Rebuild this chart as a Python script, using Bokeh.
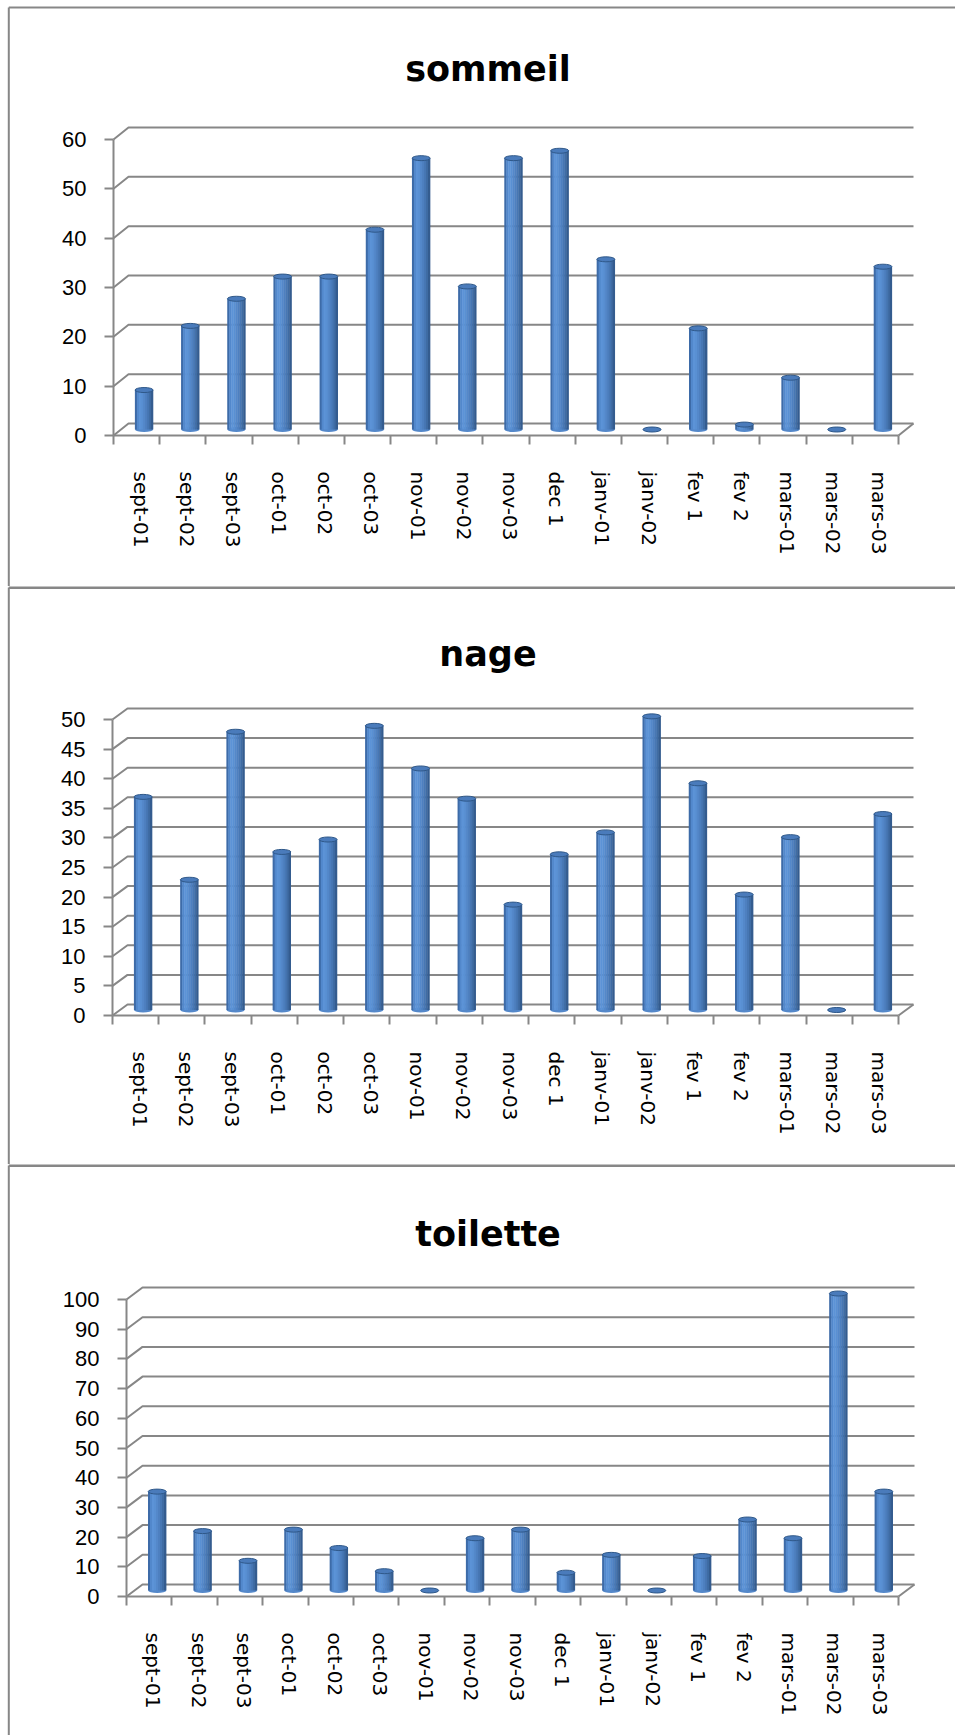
import numpy as np
from bokeh.plotting import figure
from bokeh.models import Range1d, LinearAxis, FixedTicker, CustomJSTickFormatter, ColumnDataSource
from bokeh.layouts import column
from bokeh.core.properties import value
from bokeh.embed import file_html
from bokeh.resources import INLINE

# ---- data -------------------------------------------------------------
categories = ["sept-01", "sept-02", "sept-03", "oct-01", "oct-02", "oct-03",
              "nov-01", "nov-02", "nov-03", "dec 1", "janv-01", "janv-02",
              "fev 1", "fev 2", "mars-01", "mars-02", "mars-03"]

sommeil = [8, 21, 26.5, 31, 31, 40.5, 55, 29, 55, 56.5, 34.5, 0, 20.5, 1, 10.5, 0, 33]
nage = [36, 22, 47, 26.7, 28.8, 48, 40.8, 35.7, 17.8, 26.3, 30, 49.6, 38.3, 19.5, 29.2, 0, 33.1]
toilette = [33.3, 20, 10, 20.5, 14.3, 6.5, 0, 17.6, 20.5, 6, 12, 0, 11.6, 23.9, 17.6, 100, 33.3]

sommeil_ticks = [0, 10, 20, 30, 40, 50, 60]
nage_ticks = [0, 5, 10, 15, 20, 25, 30, 35, 40, 45, 50]
toilette_ticks = [0, 10, 20, 30, 40, 50, 60, 70, 80, 90, 100]

# ---- styling ------------------------------------------------------------
PAGE_W = 955
GRAY = "#878787"
CYL_SHADES = ["#3d6ba8", "#5288cc", "#5c93d7", "#5990d3", "#5488ca",
              "#4e80c0", "#4777b4", "#3f6ca4", "#345c8f"]
CAP_FILL = "#4a7bbb"
CAP_LINE = "#2f5889"
BAR_W_PX = 18
CAP_H_PX = 5
LABEL_SHIFT_PX = 4

# pixel layout of each panel (figure-local coordinates, y from the top)
panels = [
    dict(title="sommeil", values=sommeil, ticks=sommeil_ticks, height=586,
         ox=113, oy=435, x_end=898, y_top=139, depth=(15, 12),
         border_y=7, border_w=2, title_y=68),
    dict(title="nage", values=nage, ticks=nage_ticks, height=578,
         ox=112, oy=429, x_end=898, y_top=133, depth=(15, 11),
         border_y=1, border_w=3, title_y=67),
    dict(title="toilette", values=toilette, ticks=toilette_ticks, height=571,
         ox=126, oy=432, x_end=898, y_top=135, depth=(16, 12),
         border_y=1, border_w=3, title_y=69),
]


def make_panel(cfg):
    n = len(categories)
    H = cfg["height"]
    ox, oy = cfg["ox"], cfg["oy"]
    cw = (cfg["x_end"] - ox) / n                 # pixels per category
    vmax = cfg["ticks"][-1]
    pu = (oy - cfg["y_top"]) / vmax              # pixels per value unit
    dx_px, dy_px = cfg["depth"]
    dxu, dyu = dx_px / cw, dy_px / pu            # 3-D depth in data units

    def X(px):
        return (px - ox) / cw

    def Y(py):
        return (oy - py) / pu

    p = figure(width=PAGE_W, height=H,
               x_range=Range1d(X(0), X(PAGE_W)), y_range=Range1d(Y(H), Y(0)),
               output_backend="svg", toolbar_location=None,
               x_axis_location=None, y_axis_location=None,
               min_border=0, outline_line_color=None,
               background_fill_color="white", border_fill_color="white")
    p.grid.visible = False

    # panel frame (left and top edges)
    p.line(x=[X(8.3), X(8.3)], y=[Y(cfg["border_y"]), Y(H + 5)],
           line_color=GRAY, line_width=2)
    p.line(x=[X(8.3), X(PAGE_W + 5)], y=[Y(cfg["border_y"])] * 2,
           line_color=GRAY, line_width=cfg["border_w"])

    # back wall gridlines with their side-wall diagonals, plus floor edge
    xs, ys = [], []
    for t in cfg["ticks"]:
        xs.append([0, dxu, n + dxu])
        ys.append([t, t + dyu, t + dyu])
    xs.append([n, n + dxu])
    ys.append([0, dyu])
    p.multi_line(xs=xs, ys=ys, line_color=GRAY, line_width=2)

    # cylinders, standing halfway into the depth of the floor
    vals = np.asarray(cfg["values"], dtype=float)
    centers = np.arange(n) + 0.5 + dxu / 2
    base = np.full(n, dyu / 2)
    src = ColumnDataSource(dict(x=centers, base=base, top=base + vals))

    p.ellipse(x="x", y="base", width=BAR_W_PX, height=CAP_H_PX,
              width_units="screen", height_units="screen", source=src,
              fill_color=CYL_SHADES[4], line_color=None)
    ns = len(CYL_SHADES)
    strip_px = BAR_W_PX / ns
    for k, shade in enumerate(CYL_SHADES):
        off = (-BAR_W_PX / 2 + (k + 0.5) * strip_px) / cw
        p.vbar(x=centers + off, bottom=base, top=base + vals,
               width=(strip_px + 0.4) / cw, fill_color=shade, line_color=None)
    p.ellipse(x="x", y="top", width=BAR_W_PX, height=CAP_H_PX,
              width_units="screen", height_units="screen", source=src,
              fill_color=CAP_FILL, line_color=CAP_LINE, line_width=1)

    # value axis at the front left edge
    yax = LinearAxis(fixed_location=0, bounds=(0, vmax),
                     ticker=FixedTicker(ticks=cfg["ticks"], minor_ticks=[]),
                     axis_line_color=GRAY, axis_line_width=2,
                     major_tick_line_color=GRAY, major_tick_line_width=2,
                     major_tick_out=9, major_tick_in=0,
                     minor_tick_line_color=None,
                     major_label_text_font="Liberation Sans",
                     major_label_text_font_size="22px",
                     major_label_text_color="black",
                     major_label_standoff=18)
    p.add_layout(yax, "left")

    # category axis: boundary ticks, names centred in each slot
    shift = LABEL_SHIFT_PX / cw
    xax = LinearAxis(fixed_location=0, bounds=(0, n),
                     ticker=FixedTicker(ticks=[i + 0.5 + shift for i in range(n)],
                                        minor_ticks=list(range(n + 1))),
                     formatter=CustomJSTickFormatter(
                         args=dict(labels=categories),
                         code="return labels[Math.floor(tick)]"),
                     axis_line_color=GRAY, axis_line_width=2,
                     major_tick_line_color=None, major_tick_out=0, major_tick_in=0,
                     minor_tick_line_color=GRAY, minor_tick_line_width=2,
                     minor_tick_out=9, minor_tick_in=0,
                     major_label_orientation="vertical",
                     major_label_text_font="DejaVu Sans",
                     major_label_text_font_size="20px",
                     major_label_text_color="black",
                     major_label_standoff=27)
    p.add_layout(xax, "below")

    # chart title
    p.text(x=[X(487.5)], y=[Y(cfg["title_y"])], text=[cfg["title"]],
           text_font=value("DejaVu Sans"), text_font_style="bold",
           text_font_size="35px", text_color="black",
           text_align="center", text_baseline="alphabetic")
    return p


layout = column(*[make_panel(c) for c in panels], spacing=0)
open("out.html", "w").write(file_html(layout, INLINE))
